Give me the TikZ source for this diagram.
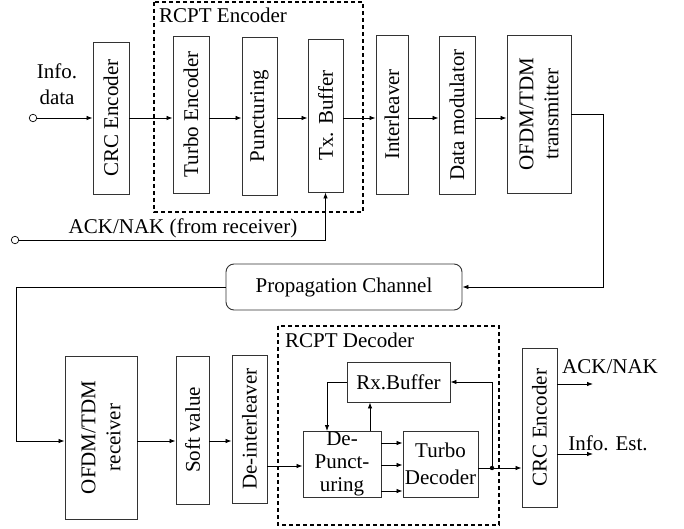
\documentclass[tikz,border=0pt]{standalone}
\usepackage{fontspec}
\setmainfont{Liberation Serif}
\usepackage{graphicx}
\usetikzlibrary{arrows.meta,calc}
\newcommand{\rt}[2][130pt]{\rotatebox{90}{\parbox{#1}{\centering #2}}}
\newcommand{\bx}[7][]{\node[box,#1,minimum width=#5pt,minimum height=#6pt] (#2) at (#3,#4) {#7};}
\tikzset{
  box/.style={draw=black!80, line width=0.9pt, inner sep=0pt, rectangle},
  arr/.style={-{Latex[length=6pt,width=4.5pt]}, line width=0.8pt},
  ln/.style={line width=0.8pt},
  grp/.style={draw, line width=1.2pt, dash pattern=on 4pt off 3pt},
  lbl/.style={inner sep=0pt},
  port/.style={circle, draw, inner sep=0pt, minimum size=7.5pt, line width=0.7pt, fill=white},
}
\begin{document}
\begin{tikzpicture}[x=1pt,y=-1pt,font=\fontsize{21}{25}\selectfont]
\useasboundingbox (0,0) rectangle (684,529);
% group frames
\draw[grp] (154,2) rectangle (363,212);
\draw[grp] (278,326) rectangle (499,525);
\node[lbl,anchor=west] (enct) at (159,15) {RCPT Encoder};
\node[lbl,anchor=west] (dect) at (285,340) {RCPT Decoder};
% transmitter chain
\bx{crc1}{111}{118}{36}{152}{\rt{CRC Encoder}}
\bx{turbo}{191}{114.5}{36}{157}{\rt{Turbo Encoder}}
\bx{punct}{259.5}{116}{35}{158}{\rt{Puncturing}}
\bx{txbuf}{325.5}{115.5}{35}{153}{\rt{Tx. Buffer}}
\bx{inter}{392}{114.5}{32}{159}{\rt{Interleaver}}
\bx{datamod}{457}{115}{36}{158}{\rt[150pt]{Data modulator}}
\bx{ofdmtx}{539}{114}{64}{158}{\rt{OFDM/TDM\\transmitter}}
\bx[rounded corners=8pt]{prop}{344}{287}{236}{46}{Propagation Channel}
% receiver chain
\bx{ofdmrx}{101}{437.5}{72}{163}{\rt{OFDM/TDM\\receiver}}
\bx{soft}{192.5}{430}{33}{148}{\rt{Soft value}}
\bx{deint}{249.5}{429}{35}{148}{\rt{De-interleaver}}
\bx{rxbuf}{398.5}{382}{103}{40}{Rx.Buffer}
\bx[align=center,font=\fontsize{21}{23}\selectfont]{depunct}{342}{464}{78}{66}{De-\\Punct-\\uring}
\bx[align=center,font=\fontsize{21}{27}\selectfont]{turbodec}{440.5}{464}{75}{66}{Turbo\\Decoder}
\bx{crc2}{539.5}{427.5}{35}{159}{\rt{CRC Encoder}}
% ports and labels
\coordinate (mainy) at (0,118);
\coordinate (lowy) at (0,441);
\node[port] (infoin) at (33,118) {};
\node[port] (ackin) at (15,240) {};
\node[lbl,align=center,font=\fontsize{21}{26}\selectfont] (infolbl) at (57,84) {Info.\\data};
\node[lbl] (acklbl) at (183,228) {ACK/NAK (from receiver)};
% transmitter connectors
\draw[arr] (infoin.east) -- (crc1.west |- mainy);
\draw[arr] (crc1.east |- mainy) -- (turbo.west |- mainy);
\draw[arr] (turbo.east |- mainy) -- (punct.west |- mainy);
\draw[arr] (punct.east |- mainy) -- (txbuf.west |- mainy);
\draw[arr] (txbuf.east |- mainy) -- (inter.west |- mainy);
\draw[arr] (inter.east |- mainy) -- (datamod.west |- mainy);
\draw[arr] (datamod.east |- mainy) -- (ofdmtx.west |- mainy);
\draw[arr] (ackin.east) -| (txbuf.south);
\coordinate (c1) at (603,287);
\draw[arr] (ofdmtx.east) -| (c1) -- (prop.east);
\coordinate (c2) at (16,441);
\draw[arr] (prop.west) -| (c2) -- (ofdmrx.west |- lowy);
% receiver connectors
\draw[arr] (ofdmrx.east |- lowy) -- (soft.west |- lowy);
\draw[arr] (soft.east |- lowy) -- (deint.west |- lowy);
\coordinate (dpy) at (0,466);
\draw[arr] (deint.east |- dpy) -- (depunct.west |- dpy);
\draw[arr] ($(depunct.east)+(0,-21)$) -- ($(turbodec.west)+(0,-21)$);
\draw[arr] ($(depunct.east)+(0,1)$) -- ($(turbodec.west)+(0,1)$);
\draw[arr] ($(depunct.east)+(0,27)$) -- ($(turbodec.west)+(0,27)$);
\coordinate (fb) at (327,431);
\draw[arr] (rxbuf.west) -| (fb);
\coordinate (up1) at (370,431);
\draw[arr] (up1) -- (up1 |- rxbuf.south);
\coordinate (dot) at (492,468);
\draw[ln] (turbodec.east |- dot) -- (dot);
\fill (dot) circle (2.2pt);
\draw[arr] (dot) -- (dot -| crc2.west);
\draw[arr] (dot) |- (rxbuf.east);
\coordinate (ackout) at (593,384);
\coordinate (estout) at (593,454);
\draw[arr] (crc2.east |- ackout) -- (ackout);
\draw[arr] (crc2.east |- estout) -- (estout);
\node[lbl] (acklbl2) at (610,367) {ACK/NAK};
\node[lbl] (estlbl) at (608,443) {Info. Est.};
\end{tikzpicture}
\end{document}
